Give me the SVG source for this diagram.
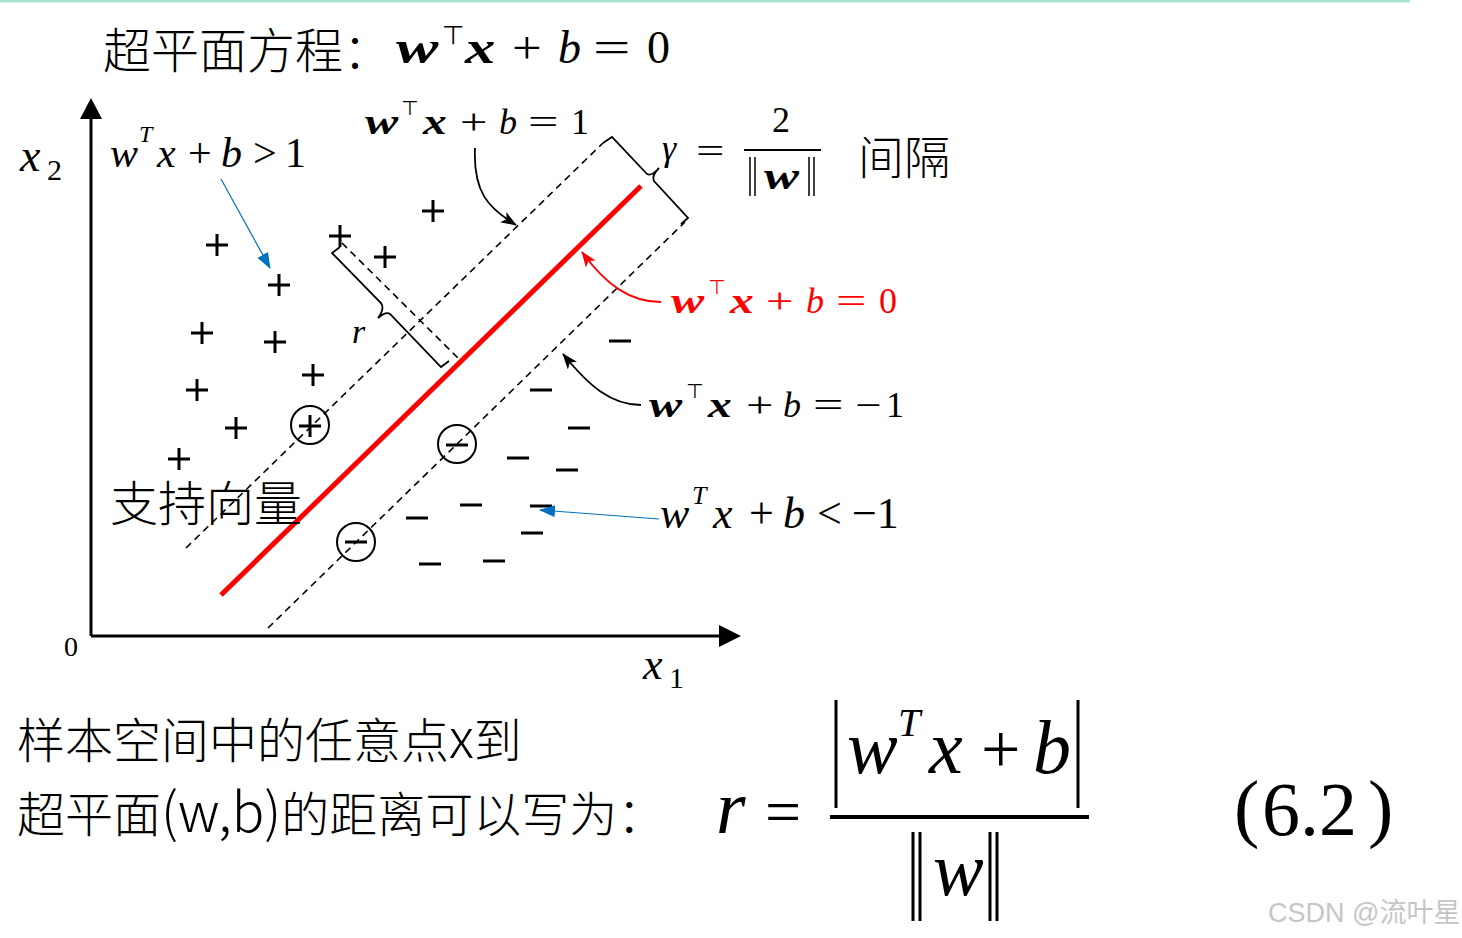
<svg xmlns="http://www.w3.org/2000/svg" width="1462" height="938" viewBox="0 0 1462 938">
<defs>
<style>
.cjk{font-family:"Noto Sans CJK SC","Noto Sans",sans-serif;font-weight:300;fill:#000}
.m{font-family:"Liberation Serif",serif;fill:#000}
.bi{font-weight:bold;font-style:italic}
.it{font-style:italic}
.tp{font-family:"DejaVu Sans",sans-serif}
.pt{stroke:#000;stroke-width:3;fill:none}
.dash{stroke:#000;stroke-width:1.6;fill:none;stroke-dasharray:7,5}
.br{stroke:#000;stroke-width:1.8;fill:none}
.ax{stroke:#000;stroke-width:3;fill:none}
.red{fill:#ff0000}
</style>
<marker id="ab" markerUnits="userSpaceOnUse" markerWidth="16" markerHeight="12" refX="15" refY="6" orient="auto"><path d="M0,0 L16,6 L0,12 L4,6 Z" fill="#000"/></marker>
<marker id="ar" markerUnits="userSpaceOnUse" markerWidth="16" markerHeight="12" refX="15" refY="6" orient="auto"><path d="M0,0 L16,6 L0,12 L4,6 Z" fill="#ff0000"/></marker>
<marker id="abl" markerUnits="userSpaceOnUse" markerWidth="16" markerHeight="12" refX="15" refY="6" orient="auto"><path d="M0,0 L16,6 L0,12 Z" fill="#0070c0"/></marker>
</defs>
<rect width="1462" height="938" fill="#fff"/>
<line x1="0" y1="1" x2="1410" y2="1" stroke="#a9e4cc" stroke-width="3"/>

<g id="title">
<text class="cjk" x="103" y="68" font-size="48">超平面方程：</text>
<g class="m" font-size="46">
<text class="bi" transform="translate(396,63) scale(1.38,1)">w</text>
<text class="tp" x="442" y="44" font-size="26">⊤</text>
<text class="bi" transform="translate(465,63) scale(1.32,1)">x</text>
<text transform="translate(512,63) scale(1.15,1)">+</text>
<text class="it" x="558" y="63">b</text>
<text transform="translate(593,63) scale(1.45,1)">=</text>
<text x="647" y="63">0</text>
</g>
</g>

<g id="axes">
<line class="ax" x1="91" y1="636" x2="91" y2="112"/>
<polygon points="91,98 80,119 102,119" fill="#000"/>
<line class="ax" x1="91" y1="636" x2="726" y2="636"/>
<polygon points="741,636 719,625 719,647" fill="#000"/>
<text class="m it" x="20" y="171" font-size="46">x</text>
<text class="m" x="47" y="180" font-size="30">2</text>
<text class="m" x="64" y="656" font-size="28">0</text>
<text class="m it" x="643" y="679" font-size="44">x</text>
<text class="m" x="669" y="688" font-size="30">1</text>
</g>

<g id="hyperplanes">
<line x1="221" y1="595" x2="641" y2="186" stroke="#ff0000" stroke-width="5"/>
<line class="dash" x1="186" y1="548" x2="603" y2="143"/>
<line class="dash" x1="268" y1="628" x2="685" y2="222"/>
<line class="dash" x1="342" y1="243" x2="458" y2="358"/>
</g>

<g id="braces">
<path class="br" d="M603,143 L612,137 L646,173 Q650,178 659,168 Q651,176 654,181 L688,218 L681,224"/>
<path class="br" d="M340,247 L332,253 L381,303 Q385,309 378,318 Q386,311 390,314 L441,367 L449,361"/>
<text class="m it" x="352" y="343" font-size="34">r</text>
</g>

<g id="positives" class="pt">
<path d="M422,211h22M433,200v22"/>
<path d="M206,245h22M217,234v22"/>
<path d="M329,236h22M340,225v22"/>
<path d="M374,257h22M385,246v22"/>
<path d="M268,285h22M279,274v22"/>
<path d="M191,333h22M202,322v22"/>
<path d="M264,342h22M275,331v22"/>
<path d="M302,375h22M313,364v22"/>
<path d="M186,390h22M197,379v22"/>
<path d="M225,428h22M236,417v22"/>
<path d="M168,459h22M179,448v22"/>
<path d="M299,426h22M310,415v22"/>
<circle cx="310" cy="425" r="19" stroke-width="2"/>
</g>

<g id="negatives" class="pt">
<path d="M609,341h22"/>
<path d="M530,390h22"/>
<path d="M568,428h22"/>
<path d="M507,458h22"/>
<path d="M556,470h22"/>
<path d="M460,505h22"/>
<path d="M530,506h22"/>
<path d="M406,518h22"/>
<path d="M521,533h22"/>
<path d="M419,564h22"/>
<path d="M483,561h22"/>
<path d="M446,445h22"/>
<circle cx="457" cy="444" r="19" stroke-width="2"/>
<path d="M345,542h22"/>
<circle cx="356" cy="542" r="19" stroke-width="2"/>
</g>

<g id="connectors">
<path d="M475,148 C473,192 488,208 516,225" stroke="#000" stroke-width="1.8" fill="none" marker-end="url(#ab)"/>
<path d="M661,302 C630,302 606,285 582,252" stroke="#ff0000" stroke-width="1.8" fill="none" marker-end="url(#ar)"/>
<path d="M641,405 C611,405 589,386 563,354" stroke="#000" stroke-width="1.8" fill="none" marker-end="url(#ab)"/>
<line x1="221" y1="179" x2="270" y2="268" stroke="#0070c0" stroke-width="1.2" marker-end="url(#abl)"/>
<line x1="659" y1="519" x2="540" y2="510" stroke="#0070c0" stroke-width="1.2" marker-end="url(#abl)"/>
</g>

<g id="label-pos" class="m it" font-size="42">
<text x="110" y="167">w</text>
<text x="139" y="142" font-size="24">T</text>
<text x="157" y="167">x</text>
<text x="188" y="167" font-style="normal">+</text>
<text x="221" y="167">b</text>
<text x="253" y="167" font-style="normal">&gt;</text>
<text x="285" y="167" font-style="normal">1</text>
</g>

<g id="label-neg" class="m it" font-size="44">
<text x="660" y="528">w</text>
<text x="692" y="504" font-size="26">T</text>
<text x="713" y="528">x</text>
<text x="749" y="528" font-style="normal">+</text>
<text x="783" y="528">b</text>
<text x="817" y="528" font-style="normal">&lt;</text>
<text x="852" y="528" font-style="normal">−1</text>
</g>

<g id="label-plus1" class="m" font-size="36">
<text class="bi" transform="translate(365,134) scale(1.38,1)">w</text>
<text class="tp" x="401" y="115" font-size="20">⊤</text>
<text class="bi" transform="translate(423,134) scale(1.32,1)">x</text>
<text transform="translate(460,134) scale(1.35,1)">+</text>
<text class="it" x="499" y="134">b</text>
<text transform="translate(528,134) scale(1.5,1)">=</text>
<text x="571" y="134">1</text>
</g>

<g id="label-zero" class="m red" font-size="36">
<text class="bi red" transform="translate(671,313) scale(1.38,1)">w</text>
<text class="tp red" x="708" y="294" font-size="20">⊤</text>
<text class="bi red" transform="translate(730,313) scale(1.32,1)">x</text>
<text class="red" transform="translate(766,313) scale(1.35,1)">+</text>
<text class="it red" x="806" y="313">b</text>
<text class="red" transform="translate(836,313) scale(1.5,1)">=</text>
<text class="red" x="879" y="313">0</text>
</g>

<g id="label-minus1" class="m" font-size="36">
<text class="bi" transform="translate(649,417) scale(1.38,1)">w</text>
<text class="tp" x="686" y="398" font-size="20">⊤</text>
<text class="bi" transform="translate(708,417) scale(1.32,1)">x</text>
<text transform="translate(746,417) scale(1.35,1)">+</text>
<text class="it" x="783" y="417">b</text>
<text transform="translate(813,417) scale(1.5,1)">=</text>
<text transform="translate(855,417) scale(1.3,1)">−</text>
<text x="886" y="417">1</text>
</g>

<g id="label-margin">
<text class="m it" x="662" y="160" font-size="36">γ</text>
<text class="m" transform="translate(696,163) scale(1.4,1)" font-size="36">=</text>
<text class="m" x="772" y="132" font-size="36">2</text>
<line x1="744" y1="150" x2="821" y2="150" stroke="#000" stroke-width="2"/>
<line x1="750" y1="157" x2="750" y2="196" stroke="#000" stroke-width="1.5"/>
<line x1="755" y1="157" x2="755" y2="196" stroke="#000" stroke-width="1.5"/>
<text class="m bi" transform="translate(764,189) scale(1.38,1)" font-size="38">w</text>
<line x1="809" y1="157" x2="809" y2="196" stroke="#000" stroke-width="1.5"/>
<line x1="814" y1="157" x2="814" y2="196" stroke="#000" stroke-width="1.5"/>
<text class="cjk" x="858" y="174" font-size="46">间隔</text>
</g>

<g id="label-sv">
<text class="cjk" x="110" y="521" font-size="48">支持向量</text>
</g>

<g id="bottom-text">
<text class="cjk" x="17" y="758" font-size="48">样本空间中的任意点<tspan font-size="54">x</tspan>到</text>
<text class="cjk" x="17" y="832" font-size="48">超平面<tspan font-size="54">(w,b)</tspan>的距离可以写为：</text>
</g>

<g id="formula" class="m">
<text class="it" x="716" y="833" font-size="76">r</text>
<text x="765" y="833" font-size="64">=</text>
<line x1="836" y1="700" x2="836" y2="808" stroke="#000" stroke-width="3"/>
<line x1="1078" y1="700" x2="1078" y2="808" stroke="#000" stroke-width="3"/>
<text class="it" x="847" y="773" font-size="76">w</text>
<text class="it" x="898" y="736" font-size="40">T</text>
<text class="it" x="929" y="773" font-size="76">x</text>
<text x="981" y="773" font-size="70">+</text>
<text class="it" x="1033" y="773" font-size="76">b</text>
<line x1="830" y1="817" x2="1089" y2="817" stroke="#000" stroke-width="4"/>
<line x1="913" y1="832" x2="913" y2="921" stroke="#000" stroke-width="3"/>
<line x1="920" y1="832" x2="920" y2="921" stroke="#000" stroke-width="3"/>
<text class="it" x="933" y="895" font-size="76">w</text>
<line x1="990" y1="832" x2="990" y2="921" stroke="#000" stroke-width="3"/>
<line x1="997" y1="832" x2="997" y2="921" stroke="#000" stroke-width="3"/>
<text x="1234" y="833" font-size="76">(</text>
<text x="1262" y="835" font-size="76">6.2</text>
<text x="1368" y="833" font-size="76">)</text>
</g>

<g id="watermark">
<text x="1268" y="922" font-size="27" font-family="'Liberation Sans','Noto Sans CJK SC',sans-serif" fill="#c6c6c6">CSDN @流叶星</text>
</g>
</svg>
